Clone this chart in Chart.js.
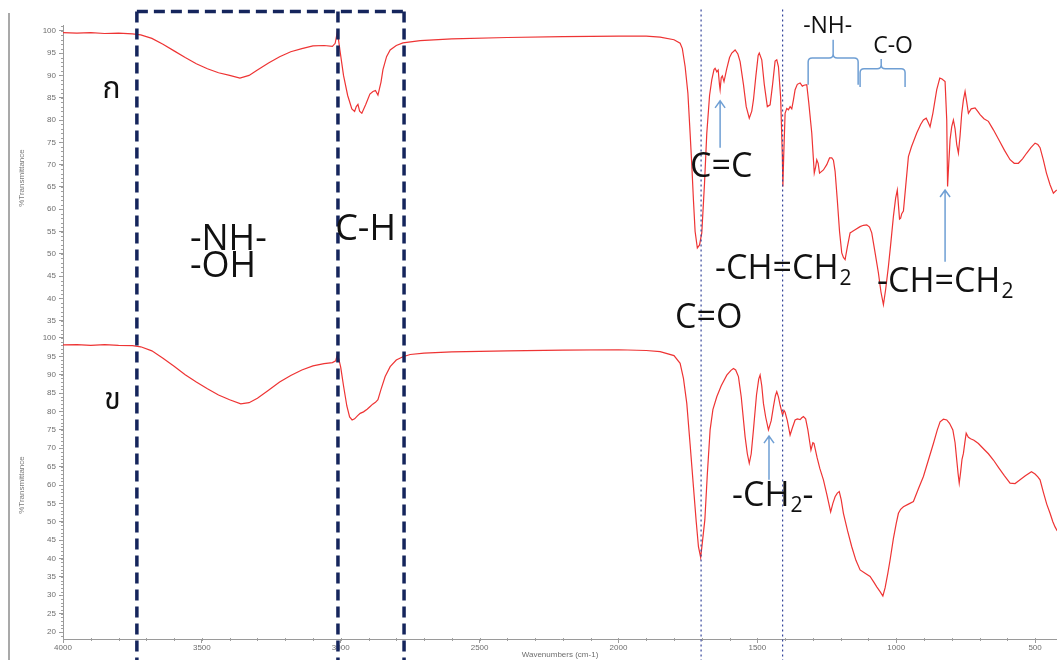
<!DOCTYPE html>
<html>
<head>
<meta charset="utf-8">
<script src="https://cdn.jsdelivr.net/npm/chart.js@4.4.1/dist/chart.umd.min.js"></script>
<style>
  html, body { margin: 0; padding: 0; background: #fff; overflow: hidden; }
  canvas { display: block; }
</style>
</head>
<body>
<canvas id="ftir" width="1057" height="660"></canvas>
<script>
// FTIR spectrum ก : [wavenumber (cm-1), %Transmittance]
const spectrumA = [
  [4000,99.6],[3950,99.5],[3900,99.6],[3850,99.4],[3800,99.5],[3750,99.3],[3720,99.1],[3680,98.3],
  [3640,97.0],[3600,95.5],[3560,94.0],[3520,92.6],[3480,91.5],[3440,90.6],[3400,90.0],[3363,89.4],
  [3330,90.0],[3300,91.2],[3260,92.8],[3220,94.2],[3180,95.3],[3140,96.0],[3100,96.6],[3060,96.7],
  [3030,96.5],[3020,97.2],[3013,99.5],[3008,98.0],[3003,95.7],[2990,90.0],[2975,85.5],[2960,82.5],
  [2950,81.9],[2944,83.0],[2938,83.5],[2932,82.0],[2924,81.5],[2910,83.5],[2895,85.8],[2884,86.4],
  [2875,86.6],[2866,85.6],[2855,88.5],[2848,91.3],[2835,94.2],[2822,95.7],[2800,96.7],[2776,97.3],
  [2714,97.8],[2600,98.2],[2400,98.5],[2200,98.7],[2000,98.8],[1900,98.8],[1850,98.6],[1800,98.0],
  [1778,97.2],[1770,96.0],[1760,92.0],[1750,86.0],[1742,77.0],[1736,70.0],[1730,62.0],[1724,55.0],
  [1716,51.3],[1708,52.0],[1700,54.7],[1690,66.0],[1682,77.0],[1672,85.5],[1664,89.0],[1656,91.3],
  [1652,91.6],[1646,90.8],[1641,91.2],[1636,87.8],[1634,86.8],[1630,89.5],[1626,89.9],[1620,88.6],
  [1610,91.5],[1600,94.0],[1592,95.0],[1580,95.7],[1570,94.8],[1562,93.1],[1550,88.0],[1540,83.0],
  [1529,80.4],[1520,82.0],[1514,84.5],[1505,90.0],[1497,94.5],[1493,95.0],[1484,93.5],[1475,88.0],
  [1464,83.0],[1454,83.4],[1445,88.0],[1436,93.2],[1430,93.5],[1424,92.0],[1416,85.0],[1410,72.0],
  [1408,65.1],[1405,72.0],[1400,81.5],[1394,82.6],[1388,82.3],[1382,83.0],[1376,82.5],[1370,84.5],
  [1364,86.8],[1356,88.0],[1346,88.3],[1338,87.6],[1332,87.8],[1322,87.9],[1315,84.0],[1304,77.1],
  [1295,68.1],[1290,69.5],[1286,71.1],[1281,70.3],[1276,68.1],[1262,68.8],[1250,70.0],[1240,71.5],
  [1232,71.5],[1226,71.0],[1220,68.5],[1212,62.0],[1204,55.0],[1196,50.2],[1190,49.2],[1184,48.7],
  [1176,51.5],[1166,54.7],[1158,55.0],[1148,55.4],[1130,56.1],[1118,56.4],[1106,56.5],[1096,56.0],
  [1088,54.7],[1078,51.0],[1064,45.7],[1055,41.5],[1046,38.6],[1038,42.0],[1028,47.2],[1020,52.0],
  [1010,58.4],[1002,62.5],[996,64.3],[992,61.0],[988,57.8],[984,58.0],[980,59.0],[974,59.6],
  [966,65.0],[956,71.8],[945,74.0],[926,77.1],[912,79.0],[902,80.0],[892,80.4],[885,79.5],
  [878,78.5],[868,81.5],[854,86.8],[843,89.4],[835,89.2],[824,88.6],[818,80.0],[815,65.1],
  [811,70.0],[806,75.6],[800,78.5],[794,80.0],[788,78.0],[782,74.5],[776,72.6],[770,76.5],
  [764,81.5],[758,84.5],[752,86.4],[746,84.0],[740,81.5],[730,82.5],[716,82.7],[705,81.8],
  [698,81.2],[684,80.3],[668,79.7],[650,77.8],[630,75.5],[610,73.2],[590,71.1],[575,70.3],
  [560,70.3],[545,71.3],[530,72.6],[515,73.8],[500,74.8],[490,74.5],[482,73.8],[470,71.0],
  [459,68.1],[446,65.5],[434,63.6],[422,64.3]
];

// FTIR spectrum ข : [wavenumber (cm-1), %Transmittance]
const spectrumB = [
  [4000,98.1],[3950,98.2],[3900,98.0],[3850,98.2],[3800,98.0],[3750,97.9],[3720,97.6],[3680,96.5],
  [3640,94.5],[3600,92.3],[3560,90.0],[3520,88.0],[3480,86.2],[3440,84.5],[3400,83.2],[3360,82.1],
  [3330,82.4],[3300,83.6],[3260,85.8],[3220,88.0],[3180,89.8],[3140,91.3],[3100,92.4],[3060,93.0],
  [3030,93.3],[3018,93.8],[3012,95.5],[3006,94.0],[3000,92.0],[2990,87.0],[2978,81.5],[2968,78.5],
  [2959,77.7],[2950,78.0],[2940,78.8],[2930,79.5],[2918,79.9],[2905,80.6],[2895,81.3],[2885,82.0],
  [2875,82.5],[2866,83.2],[2855,86.0],[2840,89.5],[2822,92.2],[2800,94.0],[2776,94.9],[2750,95.5],
  [2700,95.9],[2600,96.2],[2400,96.5],[2200,96.7],[2000,96.8],[1900,96.6],[1850,96.3],[1800,95.2],
  [1778,93.1],[1766,89.0],[1754,82.2],[1742,71.0],[1730,59.5],[1720,50.0],[1712,43.2],[1704,40.3],
  [1697,45.0],[1689,50.5],[1680,63.0],[1670,75.0],[1660,80.5],[1646,84.0],[1630,87.0],[1610,89.9],
  [1595,91.2],[1586,91.7],[1578,91.3],[1568,89.5],[1558,84.0],[1544,73.1],[1536,68.5],[1529,65.9],
  [1522,68.5],[1514,75.0],[1503,84.5],[1495,88.8],[1490,89.9],[1484,87.0],[1478,82.2],[1470,78.5],
  [1460,75.0],[1450,77.5],[1442,81.3],[1435,84.3],[1430,85.4],[1424,84.0],[1418,81.7],[1409,79.0],
  [1404,80.3],[1400,79.8],[1392,77.5],[1382,73.6],[1374,75.5],[1364,77.7],[1356,78.0],[1346,77.8],
  [1340,78.3],[1334,78.6],[1326,78.0],[1318,75.0],[1307,69.5],[1300,71.5],[1296,71.3],[1285,67.5],
  [1275,64.5],[1262,61.4],[1250,57.5],[1236,52.7],[1228,55.0],[1220,56.8],[1212,57.8],[1205,58.2],
  [1198,56.0],[1190,52.3],[1175,47.5],[1160,43.2],[1145,39.5],[1130,36.9],[1112,36.0],[1094,35.1],
  [1080,33.5],[1070,32.3],[1058,31.0],[1048,29.8],[1040,32.0],[1030,36.0],[1022,39.6],[1010,45.5],
  [1000,49.5],[992,52.3],[984,53.4],[974,54.1],[956,54.8],[938,55.5],[920,59.0],[902,62.3],
  [884,66.8],[866,71.3],[852,75.0],[842,77.2],[830,77.9],[818,77.7],[808,76.8],[796,75.0],
  [788,71.5],[782,66.8],[777,63.0],[773,60.5],[768,63.5],[763,67.0],[758,68.6],[752,72.0],
  [748,74.1],[744,73.5],[740,73.0],[732,72.6],[720,72.2],[704,71.3],[685,69.8],[668,68.5],
  [650,66.8],[630,64.6],[610,62.5],[590,60.5],[572,60.4],[554,61.4],[535,62.5],[513,63.6],
  [500,63.0],[490,62.2],[482,61.4],[470,58.0],[458,54.8],[446,52.3],[436,50.0],[428,48.6],[420,47.5]
];

// axis ranges and tick labels
const wavenumberRange = [421, 4000];
const wavenumberTicks = [4000, 3500, 3000, 2500, 2000, 1500, 1000, 500];
const transRangeA = [32.7, 101.3];
const transTicksA = [100, 95, 90, 85, 80, 75, 70, 65, 60, 55, 50, 45, 40, 35];
const transRangeB = [18.1, 101.9];
const transTicksB = [100, 95, 90, 85, 80, 75, 70, 65, 60, 55, 50, 45, 40, 35, 30, 25, 20];

// band regions marked with dashed frames, and reference lines (cm-1)
const bandFrames = [3734, 3010, 2772];
const bandLines = [1702.5, 1409];

// text labels: [text, subscript, wavenumber, axis, %T, size, align]
const bandLabels = [
  ['ก', '', 3825, 'yA', 86.4, 30, 'center'],
  ['ข', '', 3822, 'yB', 82.2, 30, 'center'],
  ['-NH-', '', 3543, 'yA', 53.1, 36, 'left'],
  ['-OH', '', 3543, 'yA', 47.1, 36, 'left'],
  ['C-H', '', 3020, 'yA', 55.4, 36, 'left'],
  ['C=C', '', 1742, 'yA', 69.4, 34, 'left'],
  ['-CH=CH', '2', 1652, 'yA', 46.6, 34, 'left'],
  ['-CH=CH', '2', 1069, 'yA', 43.6, 34, 'left'],
  ['C=O', '', 1796, 'yA', 35.6, 34, 'left'],
  ['-CH', '2-', 1591, 'yB', 57.0, 34, 'left'],
  ['-NH-', '', 1335, 'yA', 101.0, 23, 'left'],
  ['C-O', '', 1083, 'yA', 96.5, 23, 'left']
];

// curly braces: [left wn, tip wn, right wn, end %T, bar %T, tip %T]
const braces = [
  [1317, 1227, 1137, 87.9, 93.9, 98.0],
  [1130, 1054, 968, 87.4, 91.5, 93.7]
];

// arrows: [wavenumber, axis, from %T, to %T]
const arrows = [
  [1634, 'yA', 73.8, 84.3],
  [824, 'yA', 48.2, 64.3],
  [1458, 'yB', 61.4, 73.3]
];

const frameTopT = 104.3;

const thaiFont = '"Noto Sans Thai", "Noto Serif Thai", "Loma", "Garuda", "Norasi", "Tlwg Typo", "DejaVu Sans", serif';
const labelFont = '"Open Sans", "DejaVu Sans", sans-serif';

function toPoints(pairs) {
  return pairs.map(p => ({ x: p[0], y: p[1] }));
}

const minorTicks = {
  id: 'minorTicks',
  afterDraw(chart) {
    const { ctx } = chart;
    ctx.save();
    ctx.strokeStyle = '#a0a0a0';
    ctx.lineWidth = 1;
    ctx.beginPath();
    ['yA', 'yB'].forEach(id => {
      const s = chart.scales[id];
      for (let v = Math.ceil(s.min); v <= s.max; v += 1) {
        const p = Math.round(s.getPixelForValue(v)) + 0.5;
        ctx.moveTo(s.right - 2, p);
        ctx.lineTo(s.right, p);
      }
    });
    const x = chart.scales.x;
    for (let v = Math.ceil(x.min / 100) * 100; v <= x.max; v += 100) {
      const p = Math.round(x.getPixelForValue(v)) + 0.5;
      ctx.moveTo(p, x.top - 1);
      ctx.lineTo(p, x.top + 2);
    }
    ctx.stroke();
    // window frame on the left
    ctx.strokeStyle = '#8c8c8c';
    ctx.lineWidth = 1.5;
    ctx.beginPath();
    ctx.moveTo(9, 13);
    ctx.lineTo(9, chart.height);
    ctx.stroke();
    ctx.restore();
  }
};

const annotations = {
  id: 'annotations',
  afterDraw(chart) {
    const { ctx } = chart;
    const x = chart.scales.x;
    const px = v => x.getPixelForValue(v);
    const py = (axis, v) => chart.scales[axis].getPixelForValue(v);
    ctx.save();

    // dashed band frames
    ctx.strokeStyle = '#15255c';
    ctx.lineWidth = 3.5;
    ctx.setLineDash([11, 6]);
    const yTop = py('yA', frameTopT);
    ctx.beginPath();
    bandFrames.forEach(w => {
      ctx.moveTo(px(w), yTop);
      ctx.lineTo(px(w), chart.height);
    });
    ctx.moveTo(px(bandFrames[0]), yTop);
    ctx.lineTo(px(bandFrames[bandFrames.length - 1]), yTop);
    ctx.stroke();

    // dotted reference lines
    ctx.strokeStyle = '#34449a';
    ctx.lineWidth = 1.2;
    ctx.setLineDash([2, 3]);
    ctx.beginPath();
    bandLines.forEach(w => {
      ctx.moveTo(px(w), yTop - 2);
      ctx.lineTo(px(w), chart.height);
    });
    ctx.stroke();
    ctx.setLineDash([]);

    // braces
    ctx.strokeStyle = '#6f9fd4';
    ctx.lineWidth = 1.5;
    braces.forEach(b => {
      const x1 = px(b[0]), xc = px(b[1]), x2 = px(b[2]);
      const yEnd = py('yA', b[3]), yBar = py('yA', b[4]), yTip = py('yA', b[5]);
      const r = 4;
      ctx.beginPath();
      ctx.moveTo(x1, yEnd);
      ctx.lineTo(x1, yBar + r);
      ctx.quadraticCurveTo(x1, yBar, x1 + r, yBar);
      ctx.lineTo(xc - r, yBar);
      ctx.quadraticCurveTo(xc, yBar, xc, yBar - r);
      ctx.lineTo(xc, yTip);
      ctx.moveTo(xc, yBar - r);
      ctx.quadraticCurveTo(xc, yBar, xc + r, yBar);
      ctx.lineTo(x2 - r, yBar);
      ctx.quadraticCurveTo(x2, yBar, x2, yBar + r);
      ctx.lineTo(x2, yEnd);
      ctx.stroke();
    });

    // arrows
    arrows.forEach(a => {
      const ax = px(a[0]), y0 = py(a[1], a[2]), y1 = py(a[1], a[3]);
      ctx.beginPath();
      ctx.moveTo(ax, y0);
      ctx.lineTo(ax, y1);
      ctx.moveTo(ax - 5, y1 + 7);
      ctx.lineTo(ax, y1);
      ctx.lineTo(ax + 5, y1 + 7);
      ctx.stroke();
    });

    // labels
    ctx.fillStyle = '#111';
    ctx.textBaseline = 'middle';
    bandLabels.forEach(l => {
      const [text, sub, w, axis, t, size, align] = l;
      const isThai = /[\u0E00-\u0E7F]/.test(text);
      ctx.font = `${size}px ${isThai ? thaiFont : labelFont}`;
      let tx = px(w);
      const ty = py(axis, t);
      ctx.textAlign = align;
      if (align === 'center') {
        ctx.fillText(text, tx, ty);
        return;
      }
      ctx.textAlign = 'left';
      ctx.fillText(text, tx, ty);
      if (sub) {
        tx += ctx.measureText(text).width;
        const digit = sub.replace(/[^0-9]/g, '');
        const rest = sub.replace(/[0-9]/g, '');
        ctx.font = `${Math.round(size * 0.62)}px ${labelFont}`;
        ctx.fillText(digit, tx + 1, ty + size * 0.28);
        tx += ctx.measureText(digit).width + 1;
        if (rest) {
          ctx.font = `${size}px ${labelFont}`;
          ctx.fillText(rest, tx, ty);
        }
      }
    });
    ctx.restore();
  }
};

const tickFont = { family: '"Liberation Sans", Arial, sans-serif', size: 8 };
const axisGrey = '#9a9a9a';

function yAxis(range, tickValues, weight, title) {
  return {
    type: 'linear',
    position: 'left',
    stack: 'transmittance',
    stackWeight: weight,
    min: range[0],
    max: range[1],
    afterFit(scale) { scale.width = 63; },
    afterBuildTicks(scale) { scale.ticks = tickValues.map(v => ({ value: v })); },
    border: { display: true, color: axisGrey, width: 1 },
    grid: { drawOnChartArea: false, drawTicks: true, tickLength: 4, color: axisGrey },
    ticks: {
      autoSkip: false,
      padding: 3,
      color: '#6e6e6e',
      font: tickFont,
      callback: v => String(v)
    },
    title: {
      display: true,
      text: title,
      color: '#7a7a7a',
      font: { family: '"Liberation Sans", Arial, sans-serif', size: 8 },
      padding: { top: 17, bottom: 0 }
    }
  };
}

new Chart(document.getElementById('ftir'), {
  type: 'line',
  data: {
    datasets: [
      {
        label: 'ก',
        data: toPoints(spectrumA),
        yAxisID: 'yA',
        borderColor: 'rgb(238,52,52)',
        borderWidth: 1.2,
        pointRadius: 0,
        tension: 0
      },
      {
        label: 'ข',
        data: toPoints(spectrumB),
        yAxisID: 'yB',
        borderColor: 'rgb(238,52,52)',
        borderWidth: 1.2,
        pointRadius: 0,
        tension: 0
      }
    ]
  },
  options: {
    responsive: false,
    animation: false,
    devicePixelRatio: 1,
    layout: { padding: { top: 25, left: 0, right: 0, bottom: 0 } },
    plugins: { legend: { display: false }, tooltip: { enabled: false } },
    scales: {
      x: {
        type: 'linear',
        reverse: true,
        min: wavenumberRange[0],
        max: wavenumberRange[1],
        afterFit(scale) { scale.height = 21; },
        afterBuildTicks(scale) { scale.ticks = wavenumberTicks.map(v => ({ value: v })); },
        border: { display: true, color: axisGrey, width: 1 },
        grid: { drawOnChartArea: false, drawTicks: true, tickLength: 4, color: axisGrey },
        ticks: {
          autoSkip: false,
          maxRotation: 0,
          padding: 0,
          color: '#6e6e6e',
          font: tickFont,
          callback: v => String(v)
        },
        title: {
          display: true,
          text: 'Wavenumbers (cm-1)',
          color: '#6e6e6e',
          font: { family: '"Liberation Sans", Arial, sans-serif', size: 8 },
          padding: { top: 0, bottom: 0 }
        }
      },
      yB: yAxis(transRangeB, transTicksB, 308, '%Transmittance'),
      yA: yAxis(transRangeA, transTicksA, 306, '%Transmittance')
    }
  },
  plugins: [minorTicks, annotations]
});
</script>
</body>
</html>
